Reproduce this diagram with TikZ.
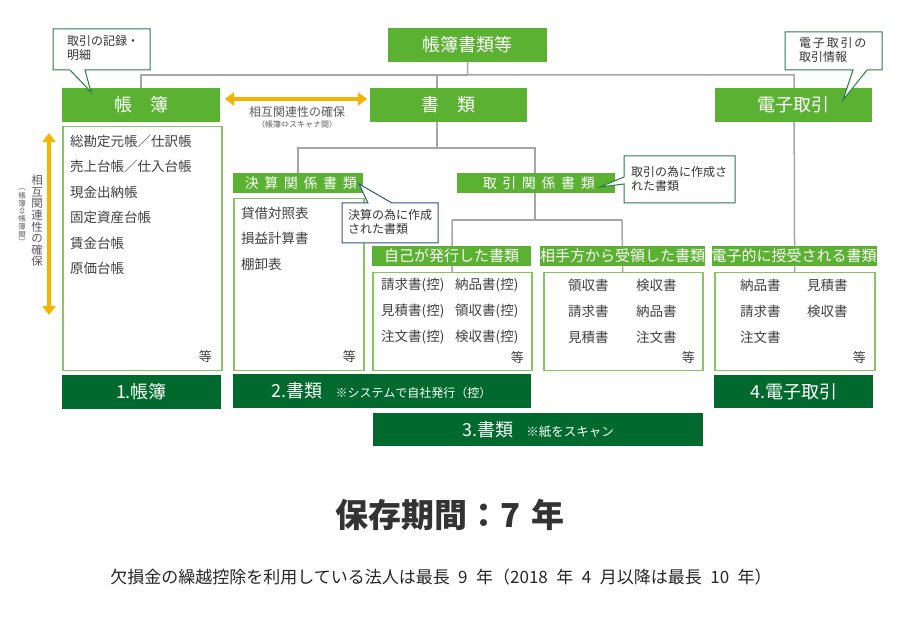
\documentclass[tikz,border=0pt]{standalone}
\usepackage{fontspec}
\usepackage{graphicx}
\setmainfont{Noto Sans CJK JP}
\newfontfamily\jpspaced{Noto Sans CJK JP}[LetterSpace=40]
\newfontfamily\jploose{Noto Sans CJK JP}[LetterSpace=15]
\usetikzlibrary{arrows.meta}
\pgfdeclarelayer{bg}
\pgfsetlayers{bg,main}
\definecolor{lgreen}{HTML}{5BB132}
\definecolor{dgreen}{HTML}{006A2E}
\definecolor{boxgreen}{HTML}{86C661}
\definecolor{linegray}{HTML}{A6A6A6}
\definecolor{arrorange}{HTML}{F5B400}
\definecolor{txtgray}{HTML}{404040}
\definecolor{callgreen}{HTML}{2C7A4B}
\definecolor{callblue}{HTML}{34508A}
\newcommand{\turnch}[1]{\rotatebox[origin=c]{-90}{#1}}
\tikzset{
    every node/.style={inner sep=0pt, text=txtgray}
}
\tikzset{
    hdr/.style={fill=lgreen, text=white, minimum width=158pt, minimum height=34pt, font=\fontsize{18}{20}\selectfont},
    subhdr/.style={fill=lgreen, text=white, minimum height=20pt, font=\fontsize{14}{15}\selectfont},
    listbox/.style={draw=boxgreen, line width=1.5pt, fill=white, anchor=north west},
    darkbox/.style={fill=dgreen, text=white, minimum height=33pt, font=\fontsize{18}{20}\selectfont},
    item/.style={anchor=west, font=\fontsize{13.5}{16}\selectfont},
    etc/.style={anchor=east, font=\fontsize{13}{16}\selectfont},
    calltext/.style={anchor=north west, align=left, font=\fontsize{12}{14}\selectfont, text=black!80},
    callg/.style={draw=callgreen, line width=1pt, fill=white},
    callb/.style={draw=callblue, line width=1pt, fill=white},
    link/.style={draw=linegray, line width=1.5pt},
    dblarrow/.style={draw=arrorange, line width=4pt, {Triangle[length=9pt,width=13pt]}-{Triangle[length=9pt,width=13pt]}}
}

\begin{document}
\begin{tikzpicture}[x=1pt, y=-1pt]
        \useasboundingbox (0,0) rectangle (900,620);
        % headers
        \node (books) [hdr, minimum width=159pt] at (467.5,45) {帳簿書類等};
        \node (ledger) [hdr] at (141,105) {帳\hspace{1em}簿};
        \node (docs) [hdr, minimum width=157pt] at (448.5,105) {書\hspace{1em}類};
        \node (etrade) [hdr, minimum width=157pt] at (793.5,105) {電子取引};
        \node (settle) [subhdr, minimum width=130pt] at (298,183) {\jpspaced 決算関係書類\kern-5.6pt};
        \node (trade) [subhdr, minimum width=158pt] at (536,183) {\jpspaced 取引関係書類\kern-5.6pt};
        \node (issued) [subhdr, minimum width=159pt, font=\fontsize{15}{17}\selectfont] at (451.5,256) {自己が発行した書類};
        \node (received) [subhdr, minimum width=159pt, font=\fontsize{15}{17}\selectfont] at (622.5,256) {相手方から受領した書類};
        \node (eheader) [subhdr, minimum width=160pt, font=\fontsize{15}{17}\selectfont] at (794,256) {電子的に授受される書類};
        % list boxes
        \node (llist) [listbox, minimum width=159pt, minimum height=244pt] at (62,126) {};
        \node (slist) [listbox, minimum width=130pt, minimum height=172pt] at (233,198) {};
        \node (ilist) [listbox, minimum width=159pt, minimum height=98pt] at (372,272) {};
        \node (olist) [listbox, minimum width=159pt, minimum height=98pt] at (543,272) {};
        \node (elist) [listbox, minimum width=160pt, minimum height=98pt] at (714,272) {};
        % ledger items
        \node (l1) [item] at (70,141) {総勘定元帳／仕訳帳};
        \node (l2) [item] at (70,166) {売上台帳／仕入台帳};
        \node (l3) [item] at (70,192) {現金出納帳};
        \node (l4) [item] at (70,217) {固定資産台帳};
        \node (l5) [item] at (70,243) {賃金台帳};
        \node (l6) [item] at (70,268) {原価台帳};
        \node (l7) [etc] at (212,357) {等};
        % settlement items
        \node (s1) [item] at (241,213) {貸借対照表};
        \node (s2) [item] at (241,238) {損益計算書};
        \node (s3) [item] at (241,264) {棚卸表};
        \node (s4) [etc] at (356,357) {等};
        % issued items
        \node (i1) [item] at (381,285) {請求書(控)};
        \node (i2) [item] at (455,285) {納品書(控)};
        \node (i3) [item] at (381,311) {見積書(控)};
        \node (i4) [item] at (455,311) {領収書(控)};
        \node (i5) [item] at (381,337) {注文書(控)};
        \node (i6) [item] at (455,337) {検収書(控)};
        \node (i7) [etc] at (524,358) {等};
        % received items
        \node (o1) [item] at (568,285) {領収書};
        \node (o2) [item] at (636,285) {検収書};
        \node (o3) [item] at (568,311) {請求書};
        \node (o4) [item] at (636,311) {納品書};
        \node (o5) [item] at (568,337) {見積書};
        \node (o6) [item] at (636,337) {注文書};
        \node (o7) [etc] at (695,358) {等};
        % electronic items
        \node (e1) [item] at (740,285) {納品書};
        \node (e2) [item] at (807,285) {見積書};
        \node (e3) [item] at (740,311) {請求書};
        \node (e4) [item] at (807,311) {検収書};
        \node (e5) [item] at (740,337) {注文書};
        \node (e6) [etc] at (866,358) {等};
        % dark boxes
        \node (d1) [darkbox, minimum width=159pt] at (141.5,392) {1.帳簿};
        \node (d2) [darkbox, minimum width=298pt] at (381.5,391) {2.書類\hspace{13pt}{\fontsize{12}{14}\selectfont ※システムで自社発行（控）}};
        \node (d3) [darkbox, minimum width=330pt] at (538,429.5) {3.書類\hspace{13pt}{\fontsize{12.5}{14}\selectfont ※紙をスキャン}};
        \node (d4) [darkbox, minimum width=159pt] at (793.5,391.5) {4.電子取引};
        % callouts
        \draw[callg] (53,29) -- (150,29) -- (150,70) -- (85,70) -- (91,92) -- (70,70) -- (53,70) -- cycle;
        \node (c1) [calltext] at (67,35) {取引の記録・\\明細};
        \draw[callg] (785,32) -- (882,32) -- (882,70) -- (867,70) -- (843,100) -- (853,70) -- (785,70) -- cycle;
        \node (c2) [calltext] at (799,37) {\jploose 電子取引の\\取引情報};
        \draw[callb] (342,203) -- (368,203) -- (359,184) -- (392,203) -- (438,203) -- (438,243) -- (342,243) -- cycle;
        \node (c3) [calltext] at (348,209) {決算の為に作成\\された書類};
        \draw[callg] (624,156) -- (735,156) -- (735,203) -- (624,203) -- (624,184) -- (600,187) -- (624,177) -- cycle;
        \node (c4) [calltext] at (631,166) {取引の為に作成さ\\れた書類};
        % mutual relation arrows
        \coordinate (aL) at (225,99);
        \coordinate (aR) at (367,99);
        \draw[dblarrow] (aL) -- (aR);
        \node (rel1) [font=\fontsize{12}{14}\selectfont, text=black!65] at (297,112) {相互関連性の確保};
        \node (rel1s) [font=\fontsize{8}{10}\selectfont, text=black!65] at (297,124) {（帳簿⇔スキャナ間）};
        \coordinate (vT) at (49,133);
        \coordinate (vB) at (49,315);
        \draw[dblarrow] (vT) -- (vB);
        \node (rel2) [align=center, font=\fontsize{11.5}{11.6}\selectfont, text=black!65] at (37,221) {相\\互\\関\\連\\性\\の\\確\\保};
        \node (rel2s) [align=center, font=\fontsize{7.5}{7.8}\selectfont, text=black!65] at (22,215) {\turnch{（}\\帳\\簿\\\turnch{⇔}\\帳\\簿\\間\\\turnch{）}};
        % retention
        \node (period) [font=\fontsize{33}{36}\selectfont\bfseries, text=black!80] at (450,515) {保存期間：7\hspace{0.35em}年};
        \node (note) [font=\fontsize{17}{19}\selectfont, text=black!85] at (441,577) {欠損金の繰越控除を利用している法人は最長\enspace 9\enspace 年（2018\enspace 年\enspace 4\enspace 月以降は最長\enspace 10\enspace 年）};
        \begin{pgfonlayer}{bg}
                \coordinate (jL) at (141,75);
                \coordinate (jR) at (794,75);
                \coordinate (jD) at (437,75);
                \coordinate (jD2) at (437,148);
                \coordinate (jS) at (298,148);
                \coordinate (jT) at (535,148);
                \coordinate (jT2) at (535,220);
                \coordinate (jI) at (452,220);
                \coordinate (jO) at (622,220);
                \draw[link] (books) |- (jL) -- (ledger);
                \draw[link] (books) |- (jR) -- (elist);
                \draw[link] (jD) |- (jS) -- (settle);
                \draw[link] (jD2) -- (jT) -- (jT2);
                \draw[link] (jI) -- (jO);
                \draw[link] (jI) -- (ilist);
                \draw[link] (jO) -- (olist);
        \end{pgfonlayer}
\end{tikzpicture}
\end{document}
